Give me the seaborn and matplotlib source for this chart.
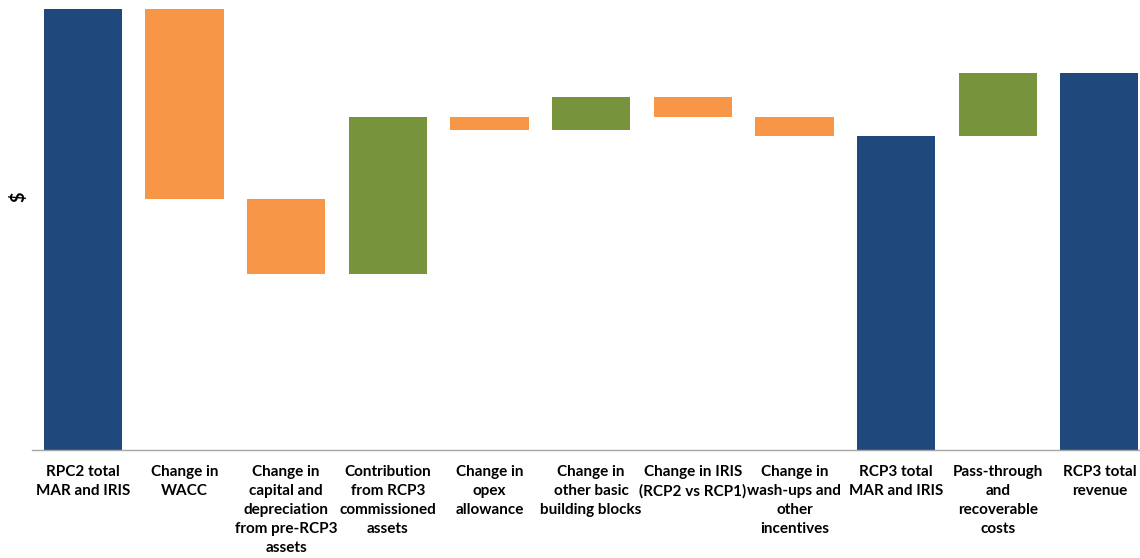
import numpy as np
import pandas as pd
import matplotlib.pyplot as plt
import seaborn as sns

# waterfall data (no scale shown on the chart, values read in relative units)
labels = ['RPC2 total\nMAR and IRIS', 'Change in\nWACC',
          'Change in\ncapital and\ndepreciation\nfrom pre-RCP3\nassets',
          'Contribution\nfrom RCP3\ncommissioned\nassets',
          'Change in\nopex\nallowance', 'Change in\nother basic\nbuilding blocks',
          'Change in IRIS\n(RCP2 vs RCP1)', 'Change in\nwash-ups and\nother\nincentives',
          'RCP3 total\nMAR and IRIS', 'Pass-through\nand\nrecoverable\ncosts',
          'RCP3 total\nrevenue']
changes = [441, -190, -75, 157, -13, 33, -20, -19, None, 63, None]
kinds = ['total', 'change', 'change', 'change', 'change', 'change',
         'change', 'change', 'total', 'change', 'total']

palette = {'total': '#1F497D', 'up': '#77933C', 'down': '#F79646'}

# running totals -> bar bottoms and heights
bottoms, heights, colors = [], [], []
running = 0
for ch, kind in zip(changes, kinds):
    if kind == 'total':
        if ch is not None:
            running = ch
        bottoms.append(0)
        heights.append(running)
        colors.append(palette['total'])
    else:
        new = running + ch
        bottoms.append(min(running, new))
        heights.append(abs(ch))
        colors.append(palette['up'] if ch > 0 else palette['down'])
        running = new

df = pd.DataFrame({'label': labels, 'height': heights})

sns.set_style('white')
plt.rcParams['font.family'] = ['Lato', 'DejaVu Sans']
plt.rcParams['text.color'] = 'black'
plt.rcParams['xtick.color'] = 'black'

fig = plt.figure(figsize=(11.40, 5.58), dpi=100)
ax = fig.add_axes([32 / 1140, 1 - 450 / 558, 11 * 101.65 / 1140, 442 / 558])

sns.barplot(data=df, x='label', y='height', bottom=np.array(bottoms),
            width=0.77, errorbar=None, color='#1F497D', linewidth=0, ax=ax)
for patch, c in zip(ax.patches, colors):
    patch.set_facecolor(c)

ax.set_xlim(-0.5, 10.5)
ax.set_ylim(0, 442)
ax.set_xlabel('')
ax.set_ylabel('')
ax.set_yticks([])
ax.tick_params(axis='x', length=0, pad=11)
for lab in ax.get_xticklabels():
    lab.set_fontsize(11)
    lab.set_fontweight('bold')
    lab.set_linespacing(1.45)
    lab.set_verticalalignment('top')

for side in ['top', 'right', 'left']:
    ax.spines[side].set_visible(False)
ax.spines['bottom'].set_color('#A6A6A6')
ax.spines['bottom'].set_linewidth(1)

fig.text(18 / 1140, 1 - 197 / 558, '$', rotation=90, ha='center', va='center',
         fontsize=13, fontweight='bold')

fig.savefig('out.png', dpi=100)
